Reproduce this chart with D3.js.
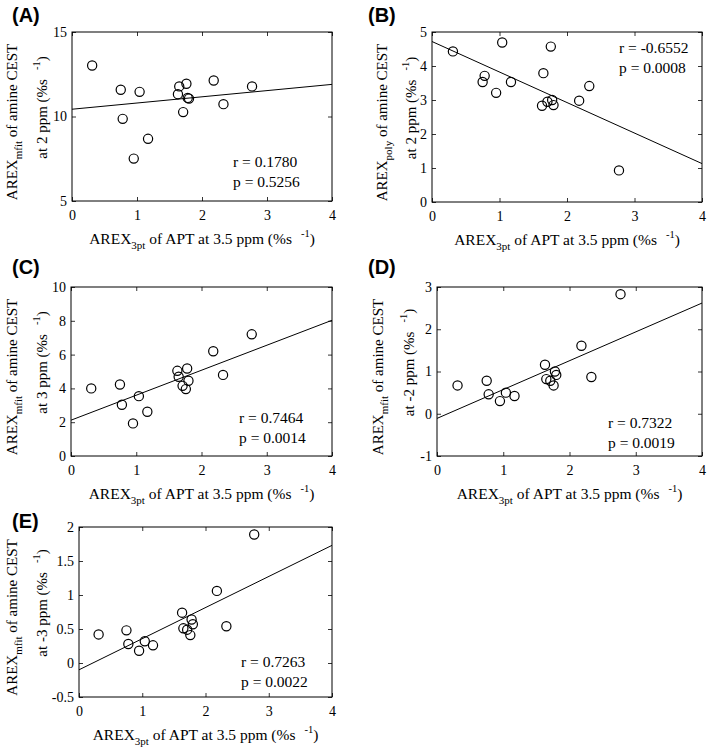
<!DOCTYPE html>
<html><head><meta charset="utf-8">
<script src="https://cdn.jsdelivr.net/npm/d3@7"></script>
<style>
html,body{margin:0;padding:0;background:#fff;}
svg text{font-family:"Liberation Serif","Times New Roman",serif !important;fill:#000;}
svg text.lab{font-family:"Liberation Sans",Arial,sans-serif !important;}
</style></head>
<body>
<svg id="chart" width="709" height="753"></svg>
<script>
// ---- data ----
const xAPT = [0.31, 0.75, 0.78, 0.95, 1.04, 1.17, 1.63, 1.65, 1.71, 1.76, 1.78, 1.80, 2.18, 2.33, 2.77];
const yA = [13.02, 11.58, 9.86, 7.51, 11.46, 8.68, 11.32, 11.78, 10.26, 11.94, 11.10, 11.06, 12.13, 10.73, 11.78];
const yB = [4.43, 3.53, 3.71, 3.21, 4.69, 3.53, 2.83, 3.79, 2.95, 4.57, 3.00, 2.85, 2.98, 3.41, 0.93];
const yC = [4.00, 4.23, 3.03, 1.93, 3.54, 2.62, 5.04, 4.69, 4.15, 3.96, 5.18, 4.45, 6.20, 4.80, 7.20];
const yD = [0.67, 0.78, 0.46, 0.30, 0.50, 0.42, 1.16, 0.82, 0.78, 0.67, 1.00, 0.92, 1.61, 0.87, 2.83];
const yE = [0.42, 0.48, 0.28, 0.18, 0.32, 0.26, 0.74, 0.51, 0.49, 0.41, 0.64, 0.57, 1.06, 0.54, 1.89];
// fitted line values at x = 0 and x = 4
const fitA = [10.43, 11.90];
const fitB = [4.72, 1.13];
const fitC = [2.12, 8.03];
const fitD = [-0.11, 2.62];
const fitE = [-0.10, 1.73];
const fitX = [0, 4];
const xTicks = [0, 1, 2, 3, 4];
const yTicksA = [5, 10, 15];
const yTicksB = [0, 1, 2, 3, 4, 5];
const yTicksC = [0, 2, 4, 6, 8, 10];
const yTicksD = [-1, 0, 1, 2, 3];
const yTicksE = [-0.5, 0, 0.5, 1, 1.5, 2];
const stats = { A: ["r = 0.1780", "p = 0.5256"], B: ["r = -0.6552", "p = 0.0008"], C: ["r = 0.7464", "p = 0.0014"], D: ["r = 0.7322", "p = 0.0019"], E: ["r = 0.7263", "p = 0.0022"] };
const ySub = { A: "mfit", B: "poly", C: "mfit", D: "mfit", E: "mfit" };
const yPpm = { A: "at 2 ppm", B: "at 2 ppm", C: "at 3 ppm", D: "at -2 ppm", E: "at -3 ppm" };

// ---- layout ----
const panels = [
  { id: "A", ys: yA, fit: fitA, yTicks: yTicksA, box: [72, 332, 32, 201], lab: [12, 22], l1: 17, l2: 47, stat: [233, 167] },
  { id: "B", ys: yB, fit: fitB, yTicks: yTicksB, box: [432, 702, 32, 202], lab: [368, 22], l1: 387, l2: 416, stat: [619, 53] },
  { id: "C", ys: yC, fit: fitC, yTicks: yTicksC, box: [71, 332, 287, 456], lab: [12, 274], l1: 17, l2: 47, stat: [239, 423] },
  { id: "D", ys: yD, fit: fitD, yTicks: yTicksD, box: [437, 702, 287, 456], lab: [368, 274], l1: 383, l2: 414, stat: [608, 428] },
  { id: "E", ys: yE, fit: fitE, yTicks: yTicksE, box: [79, 332, 527, 697], lab: [12, 528], l1: 17, l2: 47, stat: [241, 667] }
];

const svg = d3.select("#chart");

panels.forEach(p => {
  const [x0, x1, y0, y1] = p.box;
  const yExt = d3.extent(p.yTicks);
  const x = d3.scaleLinear().domain([0, 4]).range([x0, x1]);
  const y = d3.scaleLinear().domain(yExt).range([y1, y0]);
  const g = svg.append("g");
  const tl = 4;

  g.append("g").attr("transform", `translate(0,${y1})`)
    .call(d3.axisBottom(x).tickValues(xTicks).tickSize(-tl).tickPadding(9).tickFormat(d3.format("d")))
    .call(s => { s.select(".domain").remove(); s.selectAll("text").attr("font-size", 14).attr("dy", "0.71em"); });
  g.append("g").attr("transform", `translate(0,${y0})`)
    .call(d3.axisTop(x).tickValues(xTicks).tickSize(-tl).tickFormat(""))
    .call(s => s.select(".domain").remove());
  g.append("g").attr("transform", `translate(${x0},0)`)
    .call(d3.axisLeft(y).tickValues(p.yTicks).tickSize(-tl).tickPadding(5).tickFormat(d => String(d)))
    .call(s => { s.select(".domain").remove(); s.selectAll("text").attr("font-size", 14); });
  g.append("g").attr("transform", `translate(${x1},0)`)
    .call(d3.axisRight(y).tickValues(p.yTicks).tickSize(-tl).tickFormat(""))
    .call(s => s.select(".domain").remove());
  g.selectAll(".tick line").attr("stroke", "#000").attr("stroke-width", 0.8);

  g.append("rect").attr("x", x0).attr("y", y0).attr("width", x1 - x0).attr("height", y1 - y0)
    .attr("fill", "none").attr("stroke", "#000").attr("stroke-width", 1);

  g.append("line")
    .attr("x1", x(fitX[0])).attr("y1", y(p.fit[0]))
    .attr("x2", x(fitX[1])).attr("y2", y(p.fit[1]))
    .attr("stroke", "#000").attr("stroke-width", 1);

  g.selectAll("circle.pt").data(xAPT.map((v, i) => [v, p.ys[i]])).join("circle")
    .attr("class", "pt")
    .attr("cx", d => x(d[0])).attr("cy", d => y(d[1])).attr("r", 4.6)
    .attr("fill", "none").attr("stroke", "#000").attr("stroke-width", 1.2);

  const st = g.append("text").attr("font-size", 15.5);
  st.append("tspan").attr("x", p.stat[0]).attr("y", p.stat[1]).text(stats[p.id][0]);
  st.append("tspan").attr("x", p.stat[0]).attr("y", p.stat[1] + 19.5).text(stats[p.id][1]);

  g.append("text").attr("class", "lab").attr("x", p.lab[0]).attr("y", p.lab[1])
    .attr("font-weight", "bold").attr("font-size", 20).text(`(${p.id})`);

  const cx = (x0 + x1) / 2;
  const xt = g.append("text").attr("x", cx).attr("y", y1 + 43).attr("text-anchor", "middle").attr("font-size", 15.5);
  xt.append("tspan").text("AREX");
  xt.append("tspan").attr("font-size", 11).attr("dy", 5).text("3pt");
  xt.append("tspan").attr("dy", -5).text(" of APT at 3.5 ppm (%s");
  xt.append("tspan").attr("font-size", 10.5).attr("dx", 9).attr("dy", -7).text("-1");
  xt.append("tspan").attr("dy", 7).text(")");

  const cy = (y0 + y1) / 2;
  const t1 = g.append("text").attr("transform", `translate(${p.l1},${cy + 5.5}) rotate(-90)`)
    .attr("text-anchor", "middle").attr("font-size", 15);
  t1.append("tspan").text("AREX");
  t1.append("tspan").attr("font-size", 11).attr("dy", 5).text(ySub[p.id]);
  t1.append("tspan").attr("dy", -5).text(" of amine CEST");
  const t2 = g.append("text").attr("transform", `translate(${p.l2},${cy - 9}) rotate(-90)`)
    .attr("text-anchor", "middle").attr("font-size", 15);
  t2.append("tspan").text(yPpm[p.id] + " (%s");
  t2.append("tspan").attr("font-size", 10.5).attr("dx", 9).attr("dy", -7).text("-1");
  t2.append("tspan").attr("dy", 7).text(")");
});
</script>
</body></html>
